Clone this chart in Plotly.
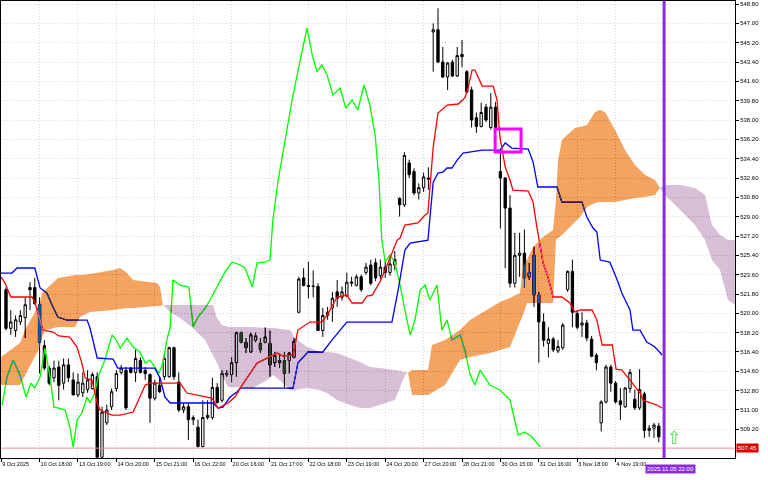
import plotly.graph_objects as go

# ---------------- data (bar index on x, price on y) ----------------
bar_index = list(range(137))
open_ = [522.2, 518.6, 518.4, 519.2, 519.6, 522.4, 522.4, 520.8, 517.0, 514.9,
         514.0, 515.0, 513.5, 515.2, 513.8, 512.4, 512.6, 512.9, 513.0, 514.1,
         506.6, 509.8, 511.3, 513.0, 514.5, 514.7, 514.9, 514.5, 515.6, 514.7,
         514.3, 512.1, 513.3, 514.1, 514.1, 516.8, 513.6, 511.0, 511.3, 510.1,
         509.4, 507.6, 510.3, 510.3, 513.1, 511.9, 514.4, 514.3, 515.4, 518.2,
         517.3, 516.4, 517.5, 517.2, 517.3, 517.2, 515.4, 515.4, 515.6, 515.6,
         515.9, 520.1, 523.3, 522.6, 522.55, 522.5, 518.4, 519.8, 520.5, 522.0,
         521.5, 521.6, 522.8, 522.6, 523.4, 523.8, 524.5, 524.7, 523.5, 524.3,
         523.8, 524.5, 530.7, 530.1, 534.0, 533.2, 531.2, 531.7, 532.6, 546.2,
         546.4, 543.4, 542.0, 543.4, 542.1, 544.1, 542.5, 540.8, 538.2, 537.4,
         539.2, 537.3, 539.2, 533.2, 532.6, 529.8, 522.8, 525.4, 525.6, 523.4,
         525.4, 521.7, 519.2, 517.2, 517.6, 516.5, 516.8, 522.2, 523.9, 520.0,
         518.9, 519.1, 517.6, 516.1, 509.8, 511.75, 515.0, 513.5, 511.85, 511.3,
         513.0, 512.0, 511.2, 512.5, 509.1, 509.3, 509.5]
high = [522.4, 520.3, 519.8, 520.3, 521.5, 522.9, 523.3, 521.5, 517.5, 515.1,
        515.6, 515.6, 515.8, 515.8, 514.5, 514.4, 514.5, 514.7, 514.5, 514.5,
        511.3, 511.5, 513.0, 514.7, 515.2, 515.0, 515.0, 516.6, 515.9, 515.0,
        514.4, 513.8, 514.1, 516.3, 516.9, 516.9, 514.5, 511.6, 511.6, 510.5,
        510.1, 511.9, 511.9, 514.0, 513.5, 514.7, 514.7, 515.9, 518.3, 518.3,
        517.7, 518.2, 518.2, 517.7, 518.7, 518.4, 516.4, 516.3, 516.4, 516.4,
        517.7, 523.4, 524.2, 524.8, 524.0, 522.8, 520.5, 520.6, 522.0, 523.1,
        522.5, 523.8, 523.4, 523.6, 523.6, 524.7, 525.0, 525.1, 525.0, 524.8,
        525.4, 525.8, 530.8, 535.0, 534.3, 533.5, 532.1, 533.1, 533.6, 547.0,
        548.4, 544.8, 543.4, 543.6, 544.8, 545.45, 542.65, 541.1, 538.7, 539.6,
        539.5, 540.5, 539.7, 535.2, 532.7, 531.0, 527.5, 527.5, 527.8, 524.7,
        526.2, 522.0, 520.0, 518.7, 517.8, 517.5, 519.1, 524.0, 525.0, 520.3,
        520.1, 519.4, 517.9, 516.3, 511.9, 515.2, 515.2, 513.7, 513.05, 513.15,
        514.8, 512.9, 514.8, 512.7, 509.6, 509.8, 509.8]
low = [518.4, 518.0, 517.8, 518.9, 517.7, 520.3, 520.8, 514.4, 514.7, 513.3,
       513.6, 511.9, 512.9, 513.6, 512.4, 512.2, 512.2, 512.6, 512.9, 506.6,
       506.6, 509.6, 511.0, 512.7, 514.3, 511.0, 514.4, 513.6, 514.4, 513.8,
       509.8, 511.9, 512.6, 513.8, 514.0, 513.8, 510.8, 510.7, 508.2, 509.6,
       507.5, 507.5, 510.1, 510.1, 511.6, 511.7, 514.1, 513.6, 514.1, 517.2,
       516.3, 516.3, 517.3, 516.3, 517.2, 514.1, 515.0, 514.9, 513.1, 514.4,
       515.8, 520.0, 522.5, 521.4, 521.5, 518.4, 517.8, 519.4, 519.2, 520.6,
       521.2, 521.5, 522.5, 522.5, 522.0, 523.6, 522.6, 523.0, 523.2, 523.3,
       523.5, 524.0, 529.0, 529.9, 532.6, 531.0, 530.6, 531.3, 531.5, 542.5,
       543.3, 541.9, 540.8, 542.0, 542.0, 542.9, 540.5, 537.3, 536.8, 537.3,
       537.8, 537.1, 536.9, 527.9, 524.2, 522.4, 522.4, 523.4, 522.4, 523.1,
       520.6, 515.4, 516.9, 515.9, 516.4, 516.3, 516.6, 522.0, 518.7, 518.5,
       517.8, 517.4, 515.9, 514.7, 509.0, 511.6, 512.7, 511.6, 510.07, 511.2,
       512.6, 511.0, 511.0, 508.4, 508.5, 508.4, 508.0]
close = [518.6, 519.2, 519.4, 519.8, 520.8, 522.2, 520.9, 517.3, 514.9, 513.5,
         514.9, 513.3, 515.2, 514.0, 512.4, 513.6, 513.5, 513.8, 514.3, 506.6,
         510.8, 511.0, 512.7, 514.4, 514.9, 511.2, 514.5, 515.8, 514.5, 514.4,
         512.1, 513.5, 512.7, 515.8, 516.8, 514.1, 511.0, 511.3, 510.1, 510.3,
         507.6, 510.3, 510.5, 513.1, 511.7, 514.4, 514.3, 515.4, 518.2, 517.3,
         516.8, 518.0, 517.9, 516.6, 517.8, 515.2, 516.1, 515.6, 514.4, 516.3,
         517.4, 523.2, 522.6, 522.5, 522.5, 518.4, 519.8, 520.1, 521.4, 521.4,
         522.0, 522.9, 522.9, 523.4, 522.2, 524.3, 522.8, 523.3, 524.3, 523.8,
         524.6, 525.0, 530.1, 534.7, 532.9, 531.2, 531.7, 532.7, 532.5, 546.4,
         543.4, 542.0, 543.3, 542.1, 544.0, 543.9, 540.6, 538.0, 537.4, 538.7,
         538.0, 539.2, 537.3, 532.6, 529.8, 522.8, 525.4, 525.6, 523.3, 523.8,
         521.7, 519.2, 517.5, 517.6, 516.6, 516.9, 518.9, 523.9, 520.1, 518.7,
         519.1, 517.7, 516.0, 515.4, 511.75, 515.0, 513.5, 511.75, 511.5, 513.05,
         514.5, 511.2, 512.9, 509.1, 509.3, 509.6, 508.5]

tenkan_x = [-1.0, -0.2, 1.0, 5.4, 6.0, 7.1, 7.7, 9.8, 11.0, 13.3, 14.8, 15.8, 16.5,
            17.9, 19.0, 19.6, 22.1, 23.8, 26.5, 29.0, 30.0, 36.3, 37.7, 42.9, 44.2,
            46.3, 47.7, 48.8, 52.3, 56.5, 57.7, 59.8, 60.8, 63.3, 65.8, 66.9, 69.0,
            71.0, 72.1, 74.2, 75.2, 76.3, 77.9, 80.0, 81.5, 82.1, 83.1, 85.8, 87.3,
            87.9, 88.3, 89.0, 90.0, 91.9, 94.2, 95.6, 96.3, 97.1, 97.7, 99.2, 101.5,
            102.3, 102.9, 104.0, 105.0, 105.6, 108.8, 109.8, 110.6, 111.9, 112.9,
            114.0, 115.8, 117.5, 118.5, 119.6, 122.1, 123.1, 124.2, 126.3, 127.1,
            128.3, 130.0, 132.1, 132.7, 135.6, 136.7]
tenkan_y = [523.38, 522.82, 521.52, 521.52, 521.05, 519.19, 518.44, 518.26, 517.89,
            517.79, 516.86, 515.37, 513.97, 513.79, 511.65, 510.99, 510.53, 510.53,
            510.81, 513.32, 513.51, 513.51, 512.58, 512.11, 511.18, 511.65, 512.21,
            513.04, 515.37, 516.30, 516.02, 516.12, 518.44, 519.19, 519.19, 519.84,
            521.52, 521.70, 520.96, 520.96, 521.61, 521.70, 522.91, 525.15, 526.82,
            527.01, 528.22, 528.41, 529.15, 529.34, 531.76, 535.48, 538.65, 539.39,
            539.49, 540.05, 541.07, 542.65, 542.65, 541.16, 541.16, 539.86, 536.41,
            533.62, 532.41, 531.48, 531.39, 530.36, 528.03, 524.68, 523.38, 521.52,
            521.52, 520.96, 520.12, 520.31, 520.31, 519.37, 517.05, 517.05, 514.81,
            514.72, 513.79, 512.58, 511.93, 511.46, 511.18]

kijun_x = [-1.04, 1.25, 2.3, 6.0, 7.1, 8.5, 9.6, 10.8, 12.7, 16.9, 17.5, 19.0, 22.3,
           23.3, 31.0, 32.1, 33.1, 34.2, 43.1, 44.2, 45.2, 46.7, 48.1, 48.8, 59.8,
           60.8, 62.9, 66.0, 67.9, 69.2, 71.0, 77.9, 80.4, 81.7, 83.1, 84.2, 87.9,
           89.0, 90.0, 91.0, 91.9, 92.9, 94.0, 95.2, 97.1, 99.2, 102.9, 104.0, 105.4,
           108.8, 109.8, 110.8, 114.8, 115.8, 120.0, 121.0, 122.3, 123.1, 123.8,
           125.8, 127.5, 128.3, 130.0, 130.6, 132.1, 133.5, 135.2, 136.7]
kijun_y = [523.75, 523.75, 524.22, 524.22, 522.36, 521.89, 520.77, 519.65, 519.37,
           519.37, 518.63, 515.84, 515.74, 514.90, 514.90, 513.97, 512.21, 511.65,
           511.65, 511.18, 511.27, 512.21, 512.67, 513.04, 513.04, 515.37, 516.40,
           516.40, 517.51, 518.26, 519.19, 519.19, 519.19, 522.17, 525.89, 526.54,
           526.82, 532.22, 533.06, 533.15, 533.53, 533.53, 534.27, 534.92, 535.02,
           535.20, 535.20, 535.86, 535.39, 535.30, 534.09, 531.76, 531.76, 530.36,
           530.36, 528.97, 527.94, 527.57, 524.96, 524.78, 522.91, 521.89, 520.31,
           518.44, 518.44, 517.33, 516.86, 516.12]

chikou_x = [-0.8, 0.2, 1.5, 2.9, 4.2, 5.2, 6.0, 7.1, 8.1, 9.2, 10.0, 11.0, 12.3, 13.3,
            14.0, 14.8, 15.8, 16.9, 17.5, 18.5, 19.2, 20.6, 22.1, 22.7, 23.8, 25.2,
            26.5, 27.9, 29.0, 30.0, 31.9, 32.7, 33.5, 34.2, 34.8, 36.3, 38.1, 39.0,
            40.0, 41.5, 42.5, 44.2, 45.6, 47.1, 48.8, 49.8, 51.3, 52.3, 54.0, 55.0,
            55.6, 56.7, 58.1, 59.6, 61.3, 62.7, 63.8, 64.8, 65.8, 66.9, 68.1, 69.6,
            70.8, 72.1, 73.3, 74.6, 75.8, 76.9, 77.7, 78.3, 79.0, 80.0, 81.0, 82.1,
            83.1, 84.2, 85.2, 86.3, 87.3, 88.3, 89.8, 90.8, 91.9, 92.9, 94.6, 95.6,
            96.7, 97.7, 98.8, 100.8, 102.9, 105.0, 106.7, 108.1, 109.6, 111.3]
chikou_y = [511.46, 514.07, 515.65, 514.25, 512.21, 513.51, 513.04, 514.07, 516.77,
            513.97, 511.27, 511.18, 510.99, 509.41, 507.55, 510.06, 510.72, 512.21,
            511.65, 512.58, 514.07, 515.65, 517.98, 517.70, 516.77, 517.70, 516.86,
            516.40, 515.37, 515.65, 514.44, 515.37, 517.51, 518.72, 523.10, 522.63,
            522.45, 518.72, 519.65, 520.49, 521.24, 522.63, 523.84, 524.78, 524.50,
            524.22, 522.45, 524.68, 524.78, 524.96, 528.69, 532.41, 536.14, 539.86,
            543.58, 546.56, 544.05, 542.47, 543.12, 542.19, 540.32, 540.98, 539.11,
            539.86, 538.93, 541.26, 539.39, 536.60, 532.41, 526.82, 524.78, 525.43,
            524.78, 522.63, 520.31, 517.98, 519.37, 522.17, 522.63, 521.24, 522.63,
            518.44, 519.37, 517.51, 517.98, 516.58, 514.25, 513.32, 514.72, 513.32,
            512.86, 511.93, 508.67, 508.95, 508.48, 507.55]

cloud_x = [-1.04, 0.83, 2.92, 3.96, 5.63, 7.08, 7.5, 8.13, 10.83, 14.38, 15.42, 17.5,
           22.29, 23.75, 25.21, 26.46, 31.46, 32.08, 32.71, 34.17, 36.25, 38.96, 41.46,
           43.13, 43.96, 45.0, 46.25, 51.46, 54.38, 55.63, 57.71, 59.17, 60.21, 62.71,
           65.42, 66.88, 68.96, 71.67, 73.75, 75.83, 77.92, 81.04, 83.13, 83.75, 84.58,
           87.92, 88.75, 91.46, 94.58, 96.67, 100.83, 102.92, 105.0, 107.08, 107.71,
           108.54, 109.79, 111.88, 113.96, 114.58, 115.0, 115.83, 116.88, 118.54,
           119.58, 121.04, 122.71, 123.75, 124.79, 126.88, 128.96, 131.04, 133.13,
           135.21, 136.25, 137.29, 140.42, 143.54, 145.63, 147.08, 148.75, 150.42,
           151.87]
span_a = [515.93, 516.58, 517.23, 518.44, 519.84, 520.96, 521.89, 522.17, 523.29,
          523.57, 523.57, 523.66, 524.03, 524.22, 523.75, 523.10, 522.82, 522.45,
          520.77, 520.12, 519.56, 518.63, 517.51, 516.12, 515.37, 514.25, 513.14,
          513.04, 513.79, 514.25, 513.51, 512.86, 512.86, 513.04, 512.86, 512.58,
          511.93, 511.46, 511.18, 511.18, 511.46, 511.93, 514.25, 514.44, 514.72,
          514.72, 517.05, 517.51, 518.44, 519.37, 520.49, 521.05, 521.42, 521.89,
          524.31, 524.96, 526.17, 527.10, 527.76, 530.55, 534.27, 536.14, 536.60,
          537.25, 537.35, 537.53, 538.74, 538.93, 538.74, 537.07, 535.20, 533.81,
          532.88, 532.41, 531.67, 531.01, 529.62, 528.22, 526.82, 524.96, 524.03,
          521.24, 520.77]
span_b = [513.32, 513.32, 513.32, 514.25, 515.65, 516.86, 517.79, 518.44, 518.72,
          518.72, 519.65, 520.12, 520.31, 520.40, 520.49, 520.49, 520.68, 520.68,
          520.77, 520.77, 520.77, 520.77, 520.77, 520.77, 519.56, 518.91, 518.72,
          518.72, 518.63, 518.63, 518.54, 518.44, 517.70, 516.86, 516.40, 516.40,
          516.30, 515.84, 515.47, 515.00, 514.90, 514.72, 514.53, 514.44, 512.39,
          512.39, 512.58, 513.32, 515.65, 515.93, 516.30, 516.58, 516.86, 519.19,
          519.84, 520.96, 520.96, 520.96, 520.96, 526.82, 527.01, 527.29, 527.76,
          528.50, 528.97, 529.90, 530.27, 530.36, 530.36, 530.36, 530.55, 530.73,
          530.83, 531.01, 531.67, 531.94, 531.94, 531.67, 531.01, 528.22, 527.29,
          526.82, 526.82]

x_tick_bars = [-1, 7, 15, 23, 31, 39, 47, 55, 63, 71, 79, 87, 95, 103, 111, 119, 127]
x_tick_text = ["9 Oct 2025", "10 Oct 18:00", "13 Oct 19:00", "14 Oct 20:00",
               "15 Oct 21:00", "16 Oct 22:00", "20 Oct 16:00", "21 Oct 17:00",
               "22 Oct 18:00", "23 Oct 19:00", "24 Oct 20:00", "27 Oct 20:00",
               "28 Oct 21:00", "30 Oct 15:00", "31 Oct 16:00", "3 Nov 18:00",
               "4 Nov 19:00"]
y_tick_vals = [509.20, 511.00, 512.80, 514.60, 516.40, 518.20, 520.00, 521.80, 523.60,
               525.40, 527.20, 529.00, 530.80, 532.60, 534.40, 536.20, 538.00, 539.80,
               541.60, 543.40, 545.20, 547.00, 548.80]
bid_price = 507.45
vline_bar = 137.1
vline_label = "2025.11.05 22:00"
box_bars = (101.9, 107.3)
box_prices = (535.02, 537.16)
arrow_bar, arrow_price = 139.2, 508.45

X_RANGE = [-1.04, 151.875]
Y_RANGE = [506.53, 549.08]

# MT5 paints the cloud in XOR mode: on white it shows sandybrown / thistle,
# on black candles it shows dark blue etc.  Emulated with a "difference" blend.
XOR_ORANGE = "#0B5B9F"   # white - #F4A460
XOR_THISTLE = "#274027"  # white - #D8BFD8
FONT = "Liberation Sans"

fig = go.Figure()

# ---- candles ----
fig.add_trace(go.Candlestick(
    x=bar_index, open=open_, high=high, low=low, close=close,
    increasing=dict(line=dict(color="#000000", width=1), fillcolor="#FFFFFF"),
    decreasing=dict(line=dict(color="#000000", width=1), fillcolor="#000000"),
    whiskerwidth=0, showlegend=False, hoverinfo="skip"))

# ---- lines ----
fig.add_trace(go.Scatter(x=chikou_x, y=chikou_y, mode="lines",
                         line=dict(color="#00FF00", width=1.3), showlegend=False))
fig.add_trace(go.Scatter(x=kijun_x, y=kijun_y, mode="lines",
                         line=dict(color="#0000FF", width=1.3), showlegend=False))
fig.add_trace(go.Scatter(x=tenkan_x, y=tenkan_y, mode="lines",
                         line=dict(color="#FF0000", width=1.3), showlegend=False))

# ---- Ichimoku cloud (split at crossings), drawn last with difference blend ----
segs = []
px, pa, pb = [cloud_x[0]], [span_a[0]], [span_b[0]]
for k in range(1, len(cloud_x)):
    d0 = span_a[k - 1] - span_b[k - 1]
    d1 = span_a[k] - span_b[k]
    if d0 * d1 < 0:
        t = d0 / (d0 - d1)
        xc = cloud_x[k - 1] + t * (cloud_x[k] - cloud_x[k - 1])
        yc = span_a[k - 1] + t * (span_a[k] - span_a[k - 1])
        px.append(xc); pa.append(yc); pb.append(yc)
        segs.append((px, pa, pb))
        px, pa, pb = [xc], [yc], [yc]
    px.append(cloud_x[k]); pa.append(span_a[k]); pb.append(span_b[k])
    if d1 == 0 and 0 < k < len(cloud_x) - 1:
        segs.append((px, pa, pb))
        px, pa, pb = [cloud_x[k]], [span_a[k]], [span_b[k]]
segs.append((px, pa, pb))
for sx, sa, sb in segs:
    if len(sx) < 2:
        continue
    bull = sum(a - b for a, b in zip(sa, sb)) >= 0
    fig.add_trace(go.Scatter(
        x=sx + sx[::-1], y=sa + sb[::-1], mode="lines", fill="toself", name="cloud",
        fillcolor=XOR_ORANGE if bull else XOR_THISTLE, line=dict(width=0),
        hoverinfo="skip", showlegend=False))

shapes = [
    dict(type="line", xref="paper", x0=0, x1=1, yref="y", y0=bid_price, y1=bid_price,
         line=dict(color="#E89090", width=1)),
    dict(type="line", xref="x", x0=vline_bar, x1=vline_bar, yref="paper", y0=0, y1=1,
         line=dict(color="#8A2BE2", width=3)),
    dict(type="rect", xref="x", x0=box_bars[0], x1=box_bars[1], yref="y",
         y0=box_prices[0], y1=box_prices[1], line=dict(color="#FF00FF", width=3)),
]

annotations = [
    dict(xref="paper", x=1, xanchor="left", xshift=1, yref="y", y=bid_price,
         text=f"{bid_price:.2f}", showarrow=False, bgcolor="#E00000",
         font=dict(color="white", size=6, family=FONT), borderpad=1),
    dict(xref="x", x=vline_bar, xanchor="center", xshift=6, yref="paper", y=0,
         yanchor="top", yshift=-6, text=vline_label, showarrow=False,
         bgcolor="#8A2BE2", font=dict(color="white", size=6, family=FONT),
         borderpad=1),
    dict(xref="x", x=arrow_bar, yref="y", y=arrow_price, text="⇧", showarrow=False,
         font=dict(color="#55DD55", size=18, family="DejaVu Sans")),
]

fig.update_layout(
    width=768, height=480,
    margin=dict(l=1, r=33, t=1, b=22),
    paper_bgcolor="white", plot_bgcolor="white",
    showlegend=False,
    shapes=shapes, annotations=annotations,
    xaxis=dict(range=X_RANGE, tickvals=x_tick_bars, ticktext=x_tick_text,
               tickangle=0, ticks="outside", ticklen=3, tickcolor="#000000",
               ticklabelposition="outside right",
               tickfont=dict(size=5.5, family=FONT, color="#000000"),
               showgrid=True, gridcolor="#D8D8D8", griddash="1px,2px", gridwidth=1,
               showline=True, linecolor="#000000", linewidth=1, mirror=True,
               zeroline=False, rangeslider=dict(visible=False)),
    yaxis=dict(range=Y_RANGE, side="right", tickvals=y_tick_vals,
               ticktext=[f"{v:.2f}" for v in y_tick_vals],
               ticks="outside", ticklen=3, tickcolor="#000000",
               tickfont=dict(size=6, family=FONT, color="#000000"),
               showgrid=True, gridcolor="#D8D8D8", griddash="1px,2px", gridwidth=1,
               showline=True, linecolor="#000000", linewidth=1, mirror=True,
               zeroline=False),
)

POST = """
document.body.style.margin = '0';
var gd = document.getElementById('{plot_id}');
function blendCloud() {
  gd.querySelectorAll('path').forEach(function (p) {
    var f = (p.style.fill || p.getAttribute('fill') || '').replace(/\\s/g, '');
    if (f === 'rgb(11,91,159)' || f === 'rgb(39,64,39)') {
      p.style.mixBlendMode = 'difference';
      var el = p.parentNode;
      while (el && el.tagName && el.tagName.toLowerCase() !== 'svg') {
        if (el.hasAttribute && el.hasAttribute('clip-path')) el.removeAttribute('clip-path');
        if (el.style) { el.style.clipPath = 'none'; }
        el = el.parentNode;
      }
    }
  });
}
blendCloud();
if (gd.on) gd.on('plotly_afterplot', blendCloud);
"""

fig.write_html("out.html", config={"displayModeBar": False}, post_script=POST)
